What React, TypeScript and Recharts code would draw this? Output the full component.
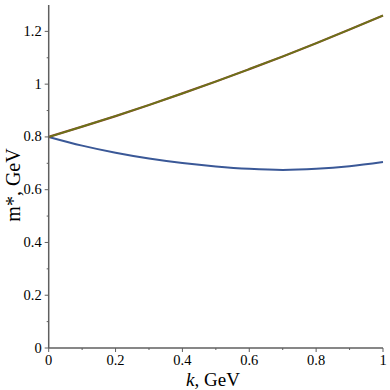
import { LineChart, Line, XAxis, YAxis } from "recharts";

const kValues = [0, 0.1, 0.2, 0.3, 0.4, 0.5, 0.6, 0.7, 0.8, 0.9, 1.0];
const upperMass = [0.8, 0.839, 0.879, 0.921, 0.965, 1.01, 1.057, 1.105, 1.155, 1.207, 1.26];
const lowerMass = [0.8, 0.767, 0.74, 0.718, 0.701, 0.688, 0.679, 0.675, 0.679, 0.689, 0.705];

const xTicks = [0, 0.1, 0.2, 0.3, 0.4, 0.5, 0.6, 0.7, 0.8, 0.9, 1];
const yTicks = [0, 0.1, 0.2, 0.3, 0.4, 0.5, 0.6, 0.7, 0.8, 0.9, 1, 1.1, 1.2];

const data = kValues.map((k, i) => ({ k, upper: upperMass[i], lower: lowerMass[i] }));

const font = "Liberation Serif";
const axisColor = "#5f5f5f";

const isMajor = (v: number) => Math.abs(Math.round(v * 10) % 2) === 0;
const fmt = (v: number) => (Math.abs(v - Math.round(v)) < 1e-9 ? String(Math.round(v)) : v.toFixed(1));

// axis lines sit at y = 348 (x axis) and x = 48.7 (y axis)
const X_AXIS_Y = 348;
const Y_AXIS_X = 48.7;

function renderXTick(props: any) {
  const { x, payload } = props;
  const v = payload.value as number;
  const major = isMajor(v);
  const y = X_AXIS_Y;
  return (
    <g key={`xt-${v}`}>
      <line x1={x} x2={x} y1={y} y2={y + (major ? 4 : 2)} stroke={axisColor} strokeWidth={1} />
      {major && (
        <text x={x} y={y + 17} textAnchor="middle" fontFamily={font} fontSize={14.5} fill="#000">
          {fmt(v)}
        </text>
      )}
    </g>
  );
}

function renderYTick(props: any) {
  const { y, payload } = props;
  const v = payload.value as number;
  const major = isMajor(v);
  const x = Y_AXIS_X;
  return (
    <g key={`yt-${v}`}>
      <line x1={x - (major ? 4 : 2)} x2={x} y1={y} y2={y} stroke={axisColor} strokeWidth={1} />
      {major && (
        <text x={x - 7} y={y + 4.5} textAnchor="end" fontFamily={font} fontSize={14.5} fill="#000">
          {fmt(v)}
        </text>
      )}
    </g>
  );
}

export default function App() {
  return (
    <div style={{ position: "absolute", left: 0, top: 0, width: 390, height: 390, background: "#fff" }}>
      <LineChart width={390} height={390} data={data} margin={{ top: 5, right: 7, bottom: 0, left: 0 }}>
        <XAxis
          dataKey="k"
          type="number"
          domain={[0, 1]}
          ticks={xTicks}
          interval={0}
          tickLine={false}
          tickSize={0}
          tickMargin={0}
          tick={renderXTick}
          axisLine={{ stroke: axisColor, strokeWidth: 1.5 }}
          height={42}
        />
        <YAxis
          type="number"
          domain={[0, 1.3]}
          ticks={yTicks}
          interval={0}
          tickLine={false}
          tickSize={0}
          tickMargin={0}
          tick={renderYTick}
          axisLine={{ stroke: axisColor, strokeWidth: 1.5 }}
          width={48.7}
        />
        <Line type="monotone" dataKey="lower" stroke="#3a5897" strokeWidth={2} dot={false} isAnimationActive={false} />
        <Line type="monotone" dataKey="upper" stroke="#8a3a2a" strokeWidth={2.2} dot={false} isAnimationActive={false} />
        <Line type="monotone" dataKey="upper" stroke="#5c9010" strokeOpacity={0.7} strokeWidth={1.6} dot={false} isAnimationActive={false} />
      </LineChart>
      <div
        style={{
          position: "absolute",
          left: 13,
          top: 185,
          transform: "translate(-50%, -50%) rotate(-90deg)",
          fontFamily: font,
          fontSize: 20,
          whiteSpace: "nowrap",
          lineHeight: 1,
        }}
      >
        m*, GeV
      </div>
      <div
        style={{
          position: "absolute",
          left: 213,
          top: 379,
          transform: "translate(-50%, -50%)",
          fontFamily: font,
          fontSize: 19,
          whiteSpace: "nowrap",
          lineHeight: 1,
        }}
      >
        <i>k</i>, GeV
      </div>
    </div>
  );
}
